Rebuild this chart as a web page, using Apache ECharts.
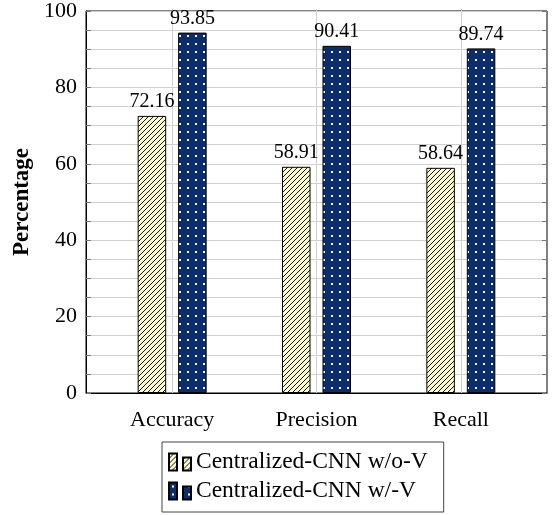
<!DOCTYPE html>
<html>
<head>
<meta charset="utf-8">
<script src="https://cdn.jsdelivr.net/npm/echarts@6/dist/echarts.min.js"></script>
<style>
html,body{margin:0;padding:0;background:#fff;}
#chart{width:554px;height:515px;}
</style>
</head>
<body>
<div id="chart"></div>
<script>
const categories = ['Accuracy', 'Precision', 'Recall'];
const seriesNames = ['Centralized-CNN w/o-V', 'Centralized-CNN w/-V'];
const withoutV = [72.16, 58.91, 58.64];
const withV = [93.85, 90.41, 89.74];
const yTicks = [0, 20, 40, 60, 80, 100];

const FONT = '"Liberation Serif", "Times New Roman", serif';

function hatchPattern() {
  const c = document.createElement('canvas');
  c.width = 5; c.height = 5;
  const g = c.getContext('2d');
  g.fillStyle = '#fdfbcf';
  g.fillRect(0, 0, 5, 5);
  g.strokeStyle = '#000';
  g.lineWidth = 0.9;
  g.beginPath();
  g.moveTo(-1, 6); g.lineTo(6, -1);
  g.moveTo(-1, 1); g.lineTo(1, -1);
  g.moveTo(4, 6); g.lineTo(6, 4);
  g.stroke();
  return c;
}
function dotPattern() {
  const c = document.createElement('canvas');
  c.width = 8; c.height = 8;
  const g = c.getContext('2d');
  g.fillStyle = '#0c2d6b';
  g.fillRect(0, 0, 8, 8);
  g.fillStyle = '#ffffff';
  g.fillRect(3, 3, 2, 2);
  return c;
}

const chart = echarts.init(document.getElementById('chart'), null, {renderer: 'canvas'});
const gridGrey = '#d0d0d0';
const legendIcon = 'path://M0,0 L8,0 L8,17 L0,17 Z M14,4 L22,4 L22,17 L14,17 Z';

const option = {
  animation: false,
  backgroundColor: '#fff',
  grid: [
    {left: 86, right: 7, top: 9, bottom: 122, show: true, borderColor: '#000', borderWidth: 1, backgroundColor: 'transparent'},
    {left: 100, right: 21, top: 9, bottom: 122},
    {left: 172, right: 93, top: 9, bottom: 122}
  ],
  xAxis: [
    {gridIndex: 0, type: 'value', min: 0, max: 1, show: true,
     axisLine: {show: true, lineStyle: {color: '#000'}}, axisTick: {show: false}, axisLabel: {show: false}, splitLine: {show: false}},
    {gridIndex: 1, type: 'category', data: categories,
     axisLine: {show: false}, axisTick: {show: false}, splitLine: {show: false},
     axisLabel: {color: '#000', fontFamily: FONT, fontSize: 22, margin: 16}},
    {gridIndex: 2, type: 'category', data: categories, boundaryGap: false,
     axisLine: {show: false}, axisTick: {show: false}, axisLabel: {show: false},
     splitLine: {show: true, interval: 0, lineStyle: {color: gridGrey, width: 1}}}
  ],
  yAxis: [
    {gridIndex: 0, type: 'value', min: yTicks[0], max: yTicks[yTicks.length - 1], interval: 20,
     axisLine: {show: true, lineStyle: {color: '#000'}},
     axisTick: {show: true, inside: true, length: 5, lineStyle: {color: '#777'}},
     minorTick: {show: true, splitNumber: 4, length: 5, lineStyle: {color: '#777'}},
     splitLine: {show: true, lineStyle: {color: gridGrey, width: 1}},
     minorSplitLine: {show: true, lineStyle: {color: gridGrey, width: 1}},
     axisLabel: {color: '#000', fontFamily: FONT, fontSize: 22, margin: 9},
     name: 'Percentage', nameLocation: 'middle', nameGap: 45,
     nameTextStyle: {color: '#000', fontFamily: FONT, fontSize: 23, fontWeight: 'bold'}},
    {gridIndex: 0, type: 'value', position: 'right', min: 0, max: 100, interval: 20,
     axisLine: {show: false},
     axisTick: {show: true, inside: true, length: 5, lineStyle: {color: '#777'}},
     minorTick: {show: true, splitNumber: 4, length: 5, lineStyle: {color: '#777'}},
     splitLine: {show: false}, axisLabel: {show: false}},
    {gridIndex: 1, type: 'value', min: 0, max: 100, show: false},
    {gridIndex: 2, type: 'value', min: 0, max: 100, show: false}
  ],
  legend: {
    left: 162, top: 442,
    orient: 'vertical',
    itemWidth: 22, itemHeight: 17, itemGap: 5,
    padding: [8, 16, 9, 6],
    borderColor: '#444', borderWidth: 1,
    backgroundColor: '#fff',
    textStyle: {color: '#000', fontFamily: FONT, fontSize: 23.5, lineHeight: 24},
    data: [
      {name: seriesNames[0], icon: legendIcon},
      {name: seriesNames[1], icon: legendIcon}
    ]
  },
  series: [
    {
      name: seriesNames[0], type: 'bar', xAxisIndex: 1, yAxisIndex: 2,
      data: withoutV, barWidth: 28.5, barGap: '42%',
      itemStyle: {color: {image: hatchPattern(), repeat: 'repeat'}, borderColor: '#000', borderWidth: 1},
      label: {show: true, position: 'top', distance: 4, color: '#000', fontFamily: FONT, fontSize: 20,
              formatter: p => p.value.toFixed(2)}
    },
    {
      name: seriesNames[1], type: 'bar', xAxisIndex: 1, yAxisIndex: 2,
      data: withV, barWidth: 28.5, barGap: '42%',
      itemStyle: {color: {image: dotPattern(), repeat: 'repeat'}, borderColor: '#000', borderWidth: 1},
      label: {show: true, position: 'top', distance: 4, color: '#000', fontFamily: FONT, fontSize: 20,
              formatter: p => p.value.toFixed(2)}
    }
  ]
};
chart.setOption(option);
</script>
</body>
</html>
